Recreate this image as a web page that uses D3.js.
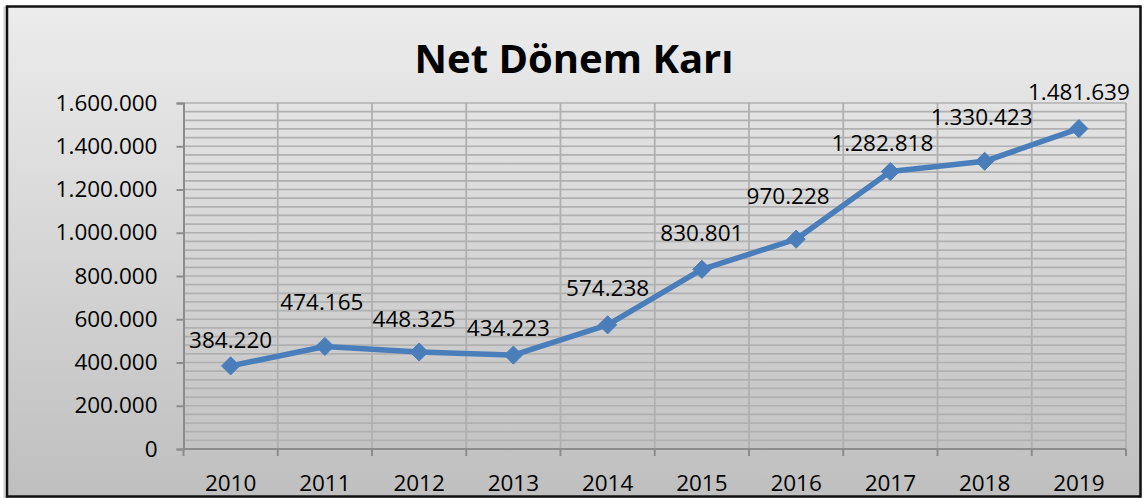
<!DOCTYPE html>
<html>
<head>
<meta charset="utf-8">
<script src="https://cdn.jsdelivr.net/npm/d3@7"></script>
<style>
  html, body { margin: 0; padding: 0; background: #fff; }
  svg { display: block; font-family: "Open Sans", "Noto Sans", sans-serif; }
</style>
</head>
<body>
<script>
// chart values
var years = ["2010", "2011", "2012", "2013", "2014", "2015", "2016", "2017", "2018", "2019"];
var netProfit = [384220, 474165, 448325, 434223, 574238, 830801, 970228, 1282818, 1330423, 1481639];
var yTicks = [0, 200000, 400000, 600000, 800000, 1000000, 1200000, 1400000, 1600000];
var chartTitle = "Net Dönem Karı";

// label nudges (dx, dy from the point), labels were moved by hand in the original
var labelNudge = [[0, -18], [-3, -36], [-5, -25], [-5, -19], [0, -29], [0, -28], [-8, -35], [-8, -21], [-3, -36], [0, -29]];

var svgWidth = 1144;
var svgHeight = 498;

var margin = { top: 103, right: 18, bottom: 49, left: 183.5 };
var plotWidth = 1126 - margin.left;
var plotHeight = 449 - margin.top;

var trLocale = d3.formatLocale({ decimal: ",", thousands: ".", grouping: [3], currency: ["", " ₺"] });
var fmt = trLocale.format(",d");

var svg = d3.select("body")
    .append("svg")
    .attr("width", svgWidth)
    .attr("height", svgHeight);

// background gradient like the office chart area
var defs = svg.append("defs");
var grad = defs.append("linearGradient")
    .attr("id", "bg")
    .attr("x1", 0).attr("y1", 0).attr("x2", 0).attr("y2", 1);
grad.append("stop").attr("offset", "0%").attr("stop-color", "#ececec");
grad.append("stop").attr("offset", "100%").attr("stop-color", "#bfbfbf");

svg.append("rect")
    .attr("x", 4.5).attr("y", 7.5)
    .attr("width", 1136).attr("height", 490)
    .attr("fill", "none")
    .attr("stroke", "#cfcfcf")
    .attr("stroke-width", 2);

svg.append("rect")
    .attr("x", 7).attr("y", 6.5)
    .attr("width", 1133.5).attr("height", 490)
    .attr("fill", "url(#bg)")
    .attr("stroke", "#111")
    .attr("stroke-width", 2.5);

svg.append("text")
    .attr("x", 574)
    .attr("y", 72.5)
    .attr("text-anchor", "middle")
    .attr("font-size", 40)
    .attr("font-weight", "bold")
    .attr("fill", "#000")
    .text(chartTitle);

var g = svg.append("g")
    .attr("transform", `translate(${margin.left}, ${margin.top})`);

var x = d3.scaleBand()
    .domain(years)
    .range([0, plotWidth])
    .padding(0);

var y = d3.scaleLinear()
    .domain([0, d3.max(yTicks)])
    .range([plotHeight, 0]);

// minor + major horizontal gridlines
var minorTicks = d3.range(0, d3.max(yTicks) + 1, 40000);
g.append("g")
    .selectAll("line")
    .data(minorTicks)
    .enter()
    .append("line")
    .attr("x1", 0)
    .attr("x2", plotWidth)
    .attr("y1", d => y(d))
    .attr("y2", d => y(d))
    .attr("stroke", "#b0b0b0")
    .attr("stroke-width", 1.7);

// vertical gridlines on category boundaries
var bounds = years.map(d => x(d)).concat([plotWidth]);
g.append("g")
    .selectAll("line")
    .data(bounds.slice(1))
    .enter()
    .append("line")
    .attr("x1", d => d)
    .attr("x2", d => d)
    .attr("y1", 0)
    .attr("y2", plotHeight)
    .attr("stroke", "#b0b0b0")
    .attr("stroke-width", 1.8);

// y axis
var leftAxis = d3.axisLeft(y)
    .tickValues(yTicks)
    .tickFormat(fmt)
    .tickSize(7)
    .tickPadding(19);

var yAxis = g.append("g").call(leftAxis);
yAxis.select(".domain").attr("stroke", "#8c8c8c").attr("stroke-width", 2);
yAxis.selectAll(".tick line").attr("stroke", "#8c8c8c").attr("stroke-width", 2);
yAxis.selectAll(".tick text")
    .attr("font-size", 22.5)
    .attr("fill", "#000")
    .attr("font-family", "Open Sans");

// x axis, ticks sit on the category boundaries
var xAxisG = g.append("g")
    .attr("transform", `translate(0, ${plotHeight})`);

xAxisG.append("line")
    .attr("x1", 0).attr("x2", plotWidth)
    .attr("y1", 0).attr("y2", 0)
    .attr("stroke", "#8c8c8c")
    .attr("stroke-width", 2);

xAxisG.selectAll(".xtick")
    .data(bounds)
    .enter()
    .append("line")
    .attr("class", "xtick")
    .attr("x1", d => d).attr("x2", d => d)
    .attr("y1", 0).attr("y2", 7)
    .attr("stroke", "#8c8c8c")
    .attr("stroke-width", 2);

xAxisG.selectAll(".xlabel")
    .data(years)
    .enter()
    .append("text")
    .attr("class", "xlabel")
    .attr("x", d => x(d) + x.bandwidth() / 2)
    .attr("y", 42)
    .attr("text-anchor", "middle")
    .attr("font-size", 22.5)
    .attr("fill", "#000")
    .text(d => d);

// line + markers
var points = years.map((d, i) => ({ year: d, value: netProfit[i], nudge: labelNudge[i] }));

var line = d3.line()
    .x(d => x(d.year) + x.bandwidth() / 2)
    .y(d => y(d.value));

g.append("path")
    .datum(points)
    .attr("d", line)
    .attr("fill", "none")
    .attr("stroke", "#4a7ebb")
    .attr("stroke-width", 5.5)
    .attr("stroke-linejoin", "round");

g.selectAll(".marker")
    .data(points)
    .enter()
    .append("path")
    .attr("class", "marker")
    .attr("d", d3.symbol().type(d3.symbolDiamond2).size(210))
    .attr("transform", d => `translate(${x(d.year) + x.bandwidth() / 2}, ${y(d.value)})`)
    .attr("fill", "#4a7ebb")
    .attr("stroke", "#4a7ebb")
    .attr("stroke-width", 1);

// data labels
g.selectAll(".dlabel")
    .data(points)
    .enter()
    .append("text")
    .attr("class", "dlabel")
    .attr("x", d => x(d.year) + x.bandwidth() / 2 + d.nudge[0])
    .attr("y", d => y(d.value) + d.nudge[1])
    .attr("text-anchor", "middle")
    .attr("font-size", 22.5)
    .attr("fill", "#000")
    .text(d => fmt(d.value));
</script>
</body>
</html>
